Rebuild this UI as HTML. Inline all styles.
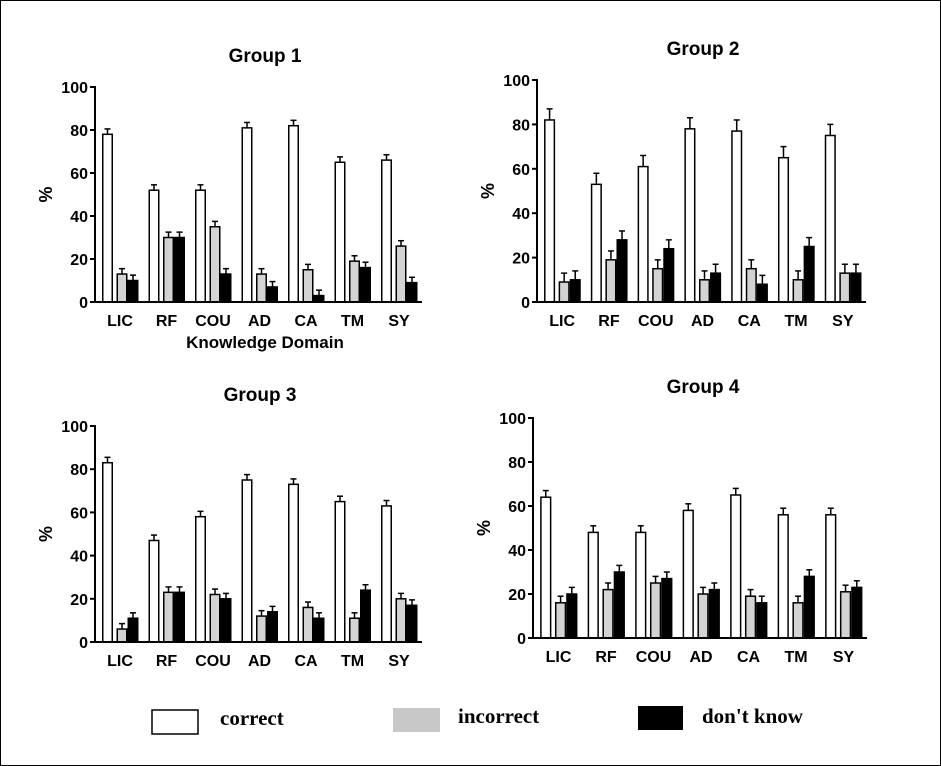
<!DOCTYPE html><html><head><style>body{margin:0;background:#fff}svg{display:block}</style></head><body>
<svg id="s" width="941" height="766" xmlns="http://www.w3.org/2000/svg" font-family="Liberation Sans, Arial, sans-serif">
<rect x="0.5" y="0.5" width="940" height="765" fill="#fff" stroke="#000"/>
</svg>
<script>
const s=document.getElementById('s');const NS='http://www.w3.org/2000/svg';
function el(t,a,txt){const e=document.createElementNS(NS,t);for(const k in a)e.setAttribute(k,a[k]);if(txt!==undefined)e.textContent=txt;s.appendChild(e);return e;}
const cats=['LIC','RF','COU','AD','CA','TM','SY'];
const panels=[
{ax:95,y100:87,y0:302,xe:422,title:'Group 1',tx:265,ty:62,xl:true,
 d:[[78,52,52,81,82,65,66],[13,30,35,13,15,19,26],[10,30,13,7,3,16,9]],e:[2.5,2.5,2.5,2]},
{ax:537,y100:80,y0:302,xe:866,title:'Group 2',tx:703,ty:55,
 d:[[82,53,61,78,77,65,75],[9,19,15,10,15,10,13],[10,28,24,13,8,25,13]],e:[5,4,4,4]},
{ax:95,y100:426,y0:642,xe:422,title:'Group 3',tx:260,ty:401,
 d:[[83,47,58,75,73,65,63],[6,23,22,12,16,11,20],[11,23,20,14,11,24,17]],e:[2.5,2.5,2.5,2.5]},
{ax:533,y100:418,y0:638,xe:867,title:'Group 4',tx:703,ty:393,
 d:[[64,48,48,58,65,56,56],[16,22,25,20,19,16,21],[20,30,27,22,16,28,23]],e:[3,3,3,3]}];
const fills=['#fff','#d3d3d3','#000'];
for(const p of panels){
 const h=p.y0-p.y100, sc=(p.xe-p.ax)/327;
 el('text',{x:p.tx,y:p.ty,'text-anchor':'middle','font-size':19,'font-weight':'bold'},p.title);
 el('text',{x:0,y:0,'text-anchor':'middle','font-size':18,'font-weight':'bold',transform:`translate(${p.ax-43},${(p.y0+p.y100)/2}) rotate(-90)`},'%');
 for(let v=0;v<=100;v+=20){const y=p.y0-v/100*h;
  el('line',{x1:p.ax-5,x2:p.ax,y1:y,y2:y,stroke:'#000','stroke-width':2});
  el('text',{x:p.ax-7,y:y+6,'text-anchor':'end','font-size':16,'font-weight':'bold'},v);}
 for(let i=0;i<7;i++){const x0=p.ax+7*sc+i*46.5*sc;
  const offs=[0,14.5,25.5];
  for(let j=0;j<3;j++){const v=p.d[j][i],x=x0+offs[j]*sc,w=11*sc,y=p.y0-v/100*h,er=(p.e[j]||2.5)*h/100;
   el('line',{x1:x+w/2,x2:x+w/2,y1:y,y2:y-er,stroke:'#000','stroke-width':1.5});
   el('line',{x1:x+w/2-3,x2:x+w/2+3,y1:y-er,y2:y-er,stroke:'#000','stroke-width':1.5});
   el('rect',{x:x+0.75,y:y,width:w-1.5,height:p.y0-y,fill:fills[j],stroke:'#000','stroke-width':1.5});}
  el('text',{x:x0+18*sc,y:p.y0+24,'text-anchor':'middle','font-size':16,'font-weight':'bold'},cats[i]);}
 el('line',{x1:p.ax,x2:p.ax,y1:p.y100-1,y2:p.y0+1,stroke:'#000','stroke-width':2});
 el('line',{x1:p.ax-1,x2:p.xe,y1:p.y0,y2:p.y0,stroke:'#000','stroke-width':2});
 if(p.xl)el('text',{x:265,y:348,'text-anchor':'middle','font-size':17,'font-weight':'bold'},'Knowledge Domain');
}
el('rect',{x:152,y:710,width:46,height:24,fill:'#fff',stroke:'#000','stroke-width':1.5});
el('rect',{x:393,y:708,width:47,height:24,fill:'#c8c8c8'});
el('rect',{x:638,y:706,width:45,height:24,fill:'#000'});
const lf={'font-family':'Liberation Serif, serif','font-size':21,'font-weight':'bold'};
el('text',Object.assign({x:220,y:725},lf),'correct');
el('text',Object.assign({x:458,y:723},lf),'incorrect');
el('text',Object.assign({x:702,y:723},lf),"don't know");
</script></body></html>
